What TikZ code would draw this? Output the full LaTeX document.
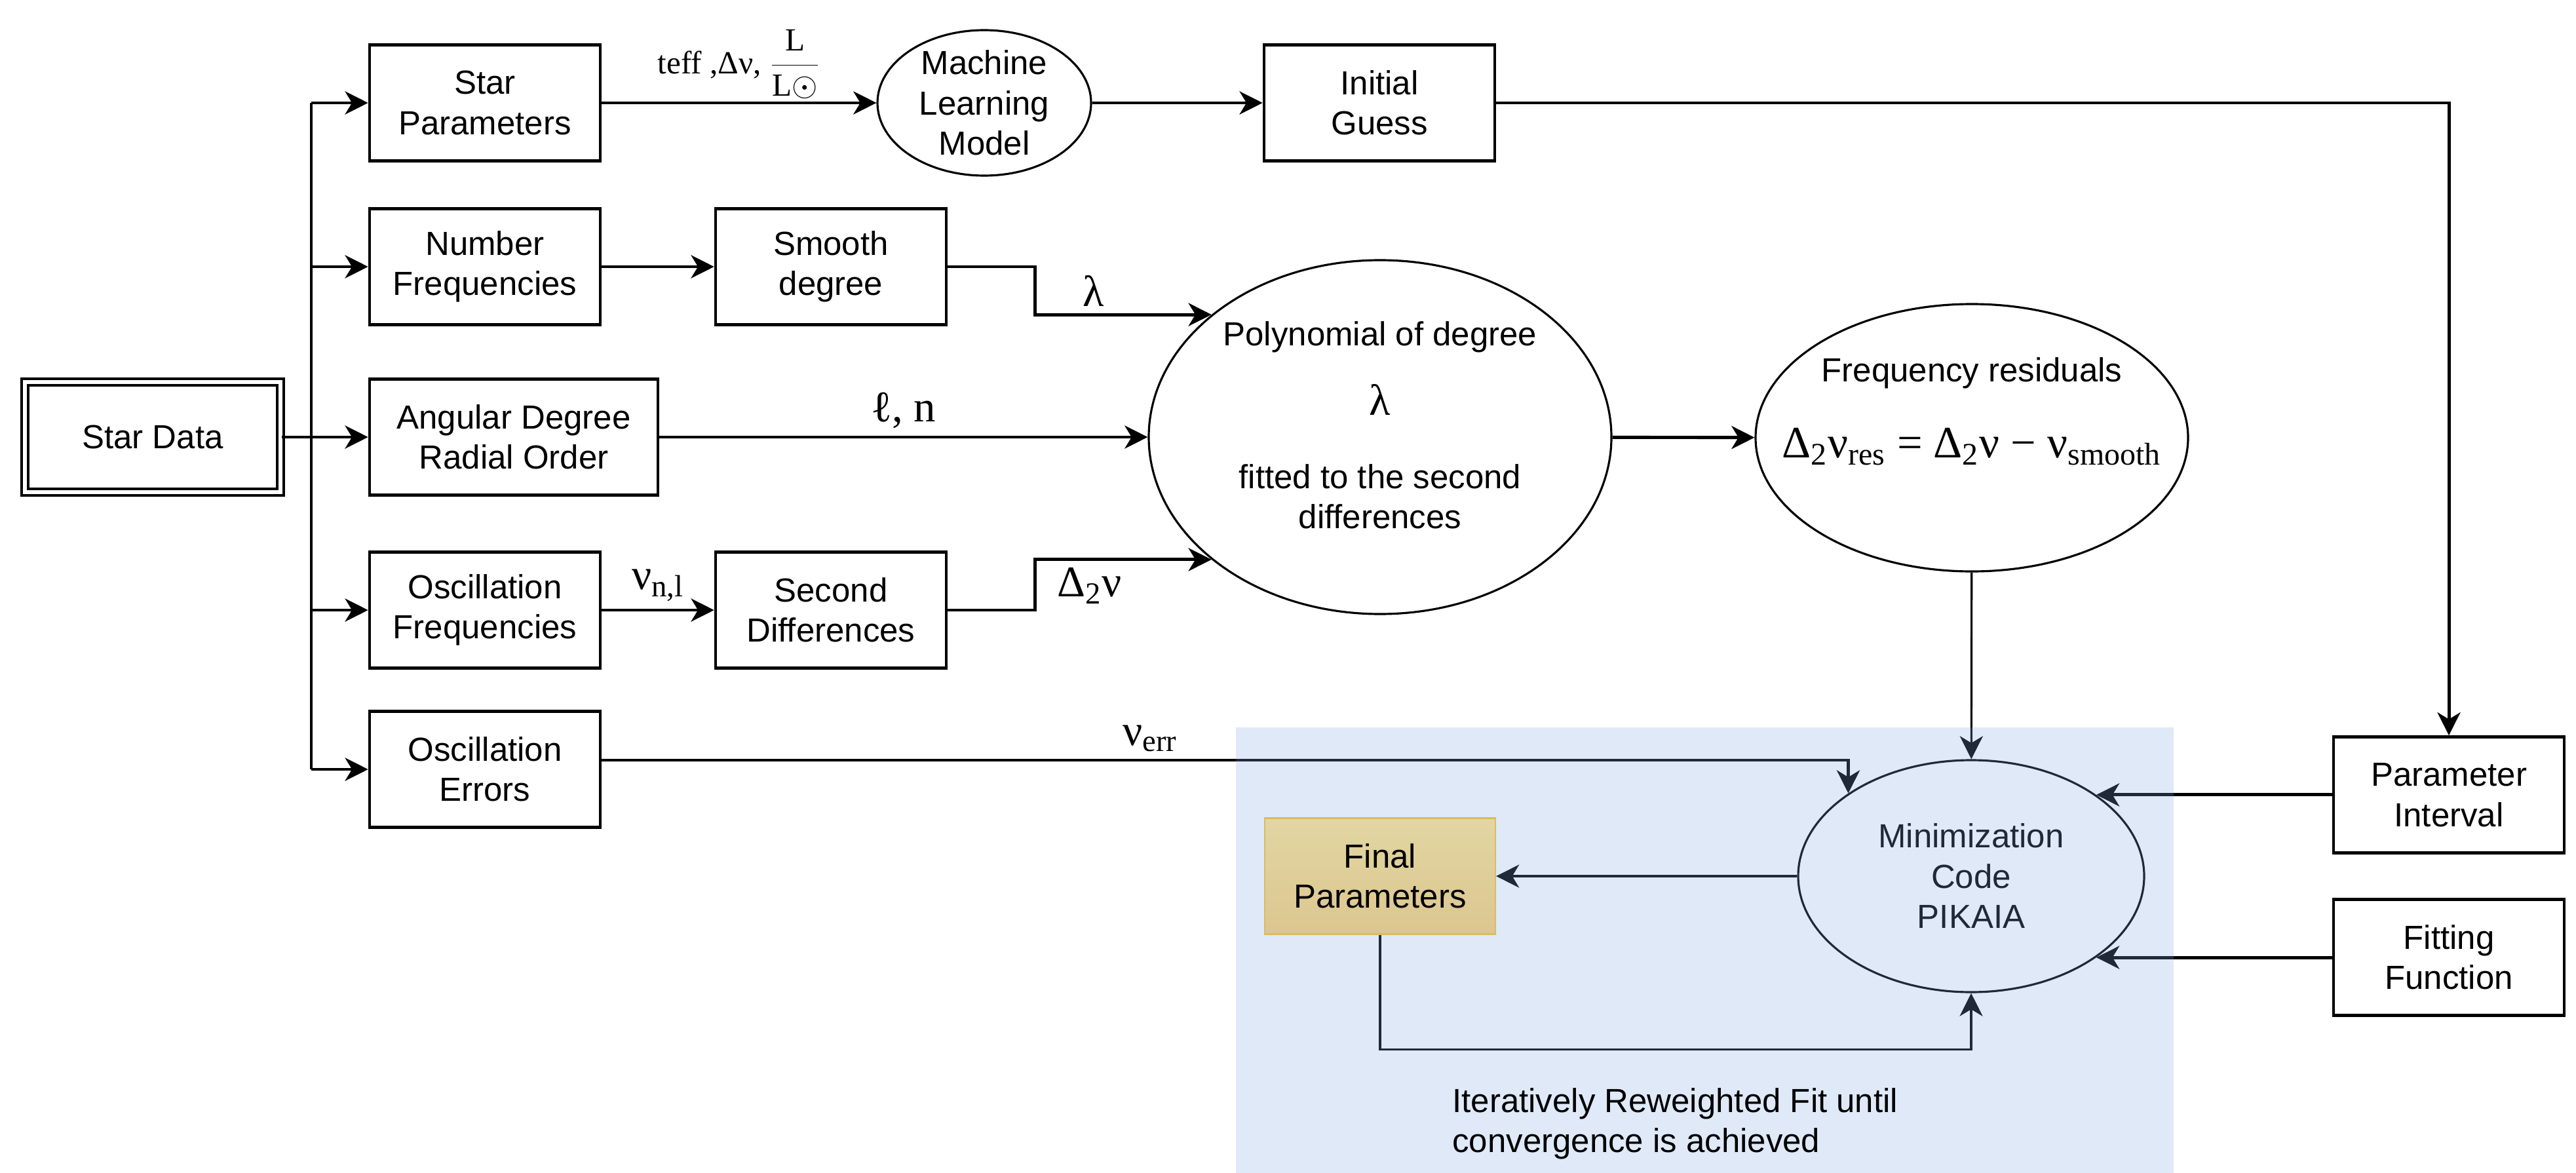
\documentclass[tikz,border=0pt]{standalone}
\usepackage{fontspec}
\setmainfont{Liberation Sans}
\newfontfamily\serifl{Liberation Serif}
\usetikzlibrary{shapes.geometric,arrows.meta}
\pgfdeclarelayer{front}
\pgfsetlayers{main,front}
\definecolor{regionblue}{HTML}{7EA6E0}
\definecolor{finaltop}{HTML}{E2D6A2}
\definecolor{finalbot}{HTML}{DCC690}
\definecolor{finaledge}{HTML}{D8BC66}

\begin{document}
\begin{tikzpicture}[>={Stealth[length=10pt,width=10pt,inset=3pt]},
    font=\fontsize{14.5}{17.5}\selectfont,
    block/.style={draw,line width=1.3pt,minimum width=3.52cm,minimum height=1.77cm,align=center},
    bubble/.style={draw,ellipse,line width=0.9pt,inner sep=0pt,align=center},
    feed/.style={->,line width=1.4pt},
    thinfeed/.style={->,line width=0.9pt},
    mathlbl/.style={font=\serifl\fontsize{19}{21}\selectfont,inner sep=3pt}]
    \useasboundingbox (0,0) rectangle (39.31,-17.90);
    \def\tx{4.75}
    % left column
    \node[block,double,double distance=0.06cm,line width=1pt,minimum width=3.9cm,minimum height=1.68cm] (sdata) at (2.33,-6.67) {Star Data};
    \node[block] (spar) at (7.40,-1.57) {Star\\Parameters};
    \node[block] (nfreq) at (7.40,-4.07) {Number\\Frequencies};
    \node[block,minimum width=4.40cm] (ang) at (7.84,-6.67) {Angular Degree\\Radial Order};
    \node[block] (ofreq) at (7.40,-9.31) {Oscillation\\Frequencies};
    \node[block] (oerr) at (7.40,-11.74) {Oscillation\\Errors};
    \node[block] (smooth) at (12.68,-4.07) {Smooth\\degree};
    \node[block] (sdiff) at (12.68,-9.31) {Second\\Differences};
    \node[bubble,minimum width=3.26cm,minimum height=2.22cm,inner ysep=-0.15cm] (ml) at (15.02,-1.57) {Machine\\Learning\\Model};
    \node[block] (guess) at (21.05,-1.57) {Initial\\Guess};
    \node[bubble,minimum width=7.06cm,minimum height=5.40cm] (poly) at (21.06,-6.67)
        {Polynomial of degree\\[0.45cm]{\serifl\fontsize{19}{21}\selectfont λ}\\[0.5cm]fitted to the second\\differences\\[-0.25cm]\mbox{}};
    \node[bubble,minimum width=6.60cm,minimum height=4.08cm,inner xsep=-0.8cm] (fres) at (30.09,-6.68)
        {Frequency residuals\\[0.55cm]{\serifl\fontsize{19.5}{21}\selectfont Δ\textsubscript{2}ν\textsubscript{res} = Δ\textsubscript{2}ν − ν\textsubscript{smooth}}\\[0.3cm]\mbox{}};
    \node[bubble,minimum width=5.28cm,minimum height=3.54cm] (mini) at (30.08,-13.37) {Minimization\\Code\\PIKAIA};
    \node[block] (pint) at (37.37,-12.13) {Parameter\\Interval};
    \node[block] (fitf) at (37.37,-14.61) {Fitting\\Function};
    \begin{pgfonlayer}{front}
    \node[block,line width=0.6pt,draw=finaledge,top color=finaltop,bottom color=finalbot] (final) at (21.06,-13.37) {Final\\Parameters};
    \node[anchor=west,align=left] (note) at (22.04,-17.15) {Iteratively Reweighted Fit until\\convergence is achieved};
    \end{pgfonlayer}

    % star data feeds
    \coordinate (trunk) at (\tx,-6.67);
    \draw[line width=1.4pt] (sdata.east) -- (trunk);
    \draw[line width=1.4pt] (trunk |- spar.west) -- (trunk |- oerr.west);
    \foreach \b in {spar,nfreq,ang,ofreq,oerr}
        \draw[feed] (trunk |- \b.west) -- (\b.west);

    \draw[feed] (spar) -- node[above,inner sep=1pt,font=\serifl\fontsize{14}{16}\selectfont] (tlbl)
        {teff ,Δν, $\displaystyle\frac{\mbox{L}}{\mbox{L}\odot}$} (ml);
    \draw[feed] (ml) -- (guess);
    \draw[feed] (guess.east) -| (pint.north);
    \draw[feed] (nfreq) -- (smooth);
    \draw[feed] (smooth.east) -- ++(1.33,0) |- node[pos=0.665,above,mathlbl] (lamlbl) {λ} (poly.144);
    \draw[feed] (ang) -- node[above,mathlbl] (lnlbl) {ℓ, n} (poly);
    \draw[feed] (ofreq) -- node[above,mathlbl] (nulbl) {ν\textsubscript{n,l}} (sdiff);
    \draw[feed] (sdiff.east) -- ++(1.33,0) |- node[pos=0.655,below,mathlbl] (dlbl) {Δ\textsubscript{2}ν} (poly.216);
    \draw[feed] (poly) -- (fres);

    % into the minimization
    \draw[thinfeed] (fres) -- (mini);
    \draw[feed] ([yshift=0.14cm]oerr.east) -| node[pos=0.22,above,mathlbl] (errlbl) {ν\textsubscript{err}} (mini.146);
    \draw[feed] (mini.33 -| pint.west) -- (mini.33);
    \draw[feed] (mini.-33 -| fitf.west) -- (mini.-33);
    \draw[thinfeed] (mini.west) -- (final.east);
    \draw[thinfeed] (final.south) -- ++(0,-1.75) -| (mini.south);

    \fill[regionblue,fill opacity=0.25] (18.86,-11.10) rectangle (33.17,-17.90);
\end{tikzpicture}
\end{document}
